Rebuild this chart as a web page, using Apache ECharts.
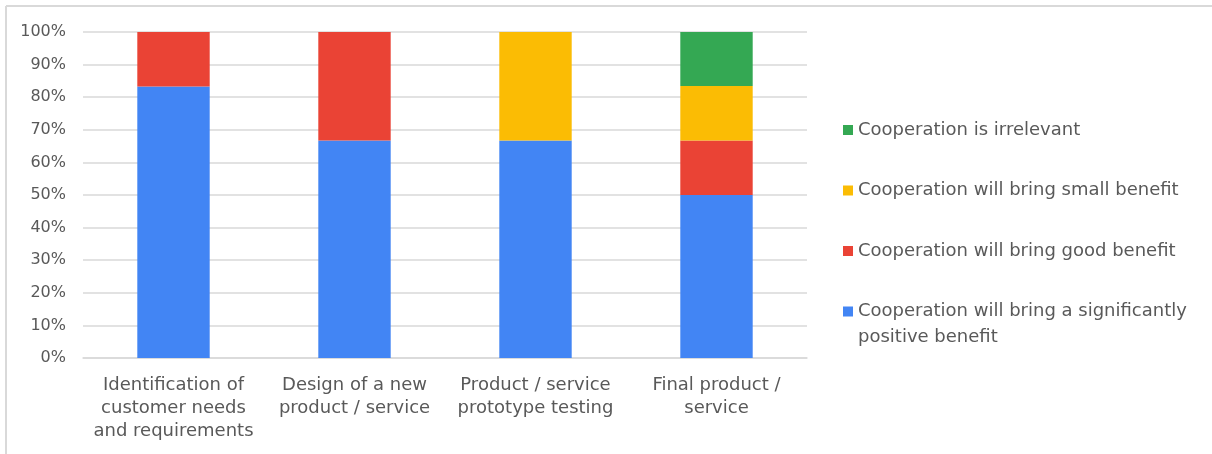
<!DOCTYPE html>
<html>
<head>
<meta charset="utf-8">
<script src="https://cdn.jsdelivr.net/npm/echarts@6/dist/echarts.min.js"></script>
<style>
  html, body { margin: 0; padding: 0; background: #fff; }
  #main { width: 1212px; height: 454px; }
</style>
</head>
<body>
<div id="main"></div>
<script>
// categories and shares (percent of respondents per stage)
var categories = [
    'Identification of\ncustomer needs\nand requirements',
    'Design of a new\nproduct / service',
    'Product / service\nprototype testing',
    'Final product /\nservice'
];
var seriesNames = [
    'Cooperation will bring a significantly\npositive benefit',
    'Cooperation will bring good benefit',
    'Cooperation will bring small benefit',
    'Cooperation is irrelevant'
];
var significant = [83.3, 66.7, 66.7, 50.0];
var good        = [16.7, 33.3, 0, 16.7];
var small       = [0, 0, 33.3, 16.7];
var irrelevant  = [0, 0, 0, 16.7];
var colors = ['#4285F4', '#EA4335', '#FBBC04', '#34A853'];

var myChart = echarts.init(document.getElementById('main'));
var font = 'DejaVu Sans';

var values = [significant, good, small, irrelevant];
var series = [];
for (var i = 0; i < values.length; i++) {
    series.push({
        name: seriesNames[i],
        type: 'bar',
        stack: 'total',
        barWidth: '40%',
        itemStyle: { color: colors[i] },
        data: values[i]
    });
}

// legend is reversed (green on top); the two-line item keeps its square on the first line
var legendData = seriesNames.slice().reverse().map(function (n) {
    var twoLines = n.indexOf('\n') >= 0;
    return twoLines ? { name: n } : { name: n, textStyle: { padding: [26, 0, 26, 0] } };
});

var option = {
    animation: false,
    backgroundColor: '#fff',
    textStyle: { fontFamily: font },
    graphic: [
        // light frame on the left and top
        { type: 'line', shape: { x1: 6, y1: 6, x2: 1212, y2: 6 }, style: { stroke: '#d9d9d9', lineWidth: 2 } },
        { type: 'line', shape: { x1: 6, y1: 6, x2: 6, y2: 454 }, style: { stroke: '#d9d9d9', lineWidth: 2 } }
    ],
    grid: { left: 83, right: 405, top: 32, bottom: 96 },
    legend: {
        orient: 'vertical',
        left: 838,
        top: 86,
        itemWidth: 10,
        itemHeight: 10,
        itemGap: -17.5,
        icon: 'rect',
        data: legendData,
        formatter: function (name) {
            // empty first line so the square sits beside the first text line
            return name.indexOf('\n') >= 0 ? '\n' + name : name;
        },
        textStyle: { color: '#595959', fontSize: 18, fontFamily: font, lineHeight: 26 }
    },
    xAxis: {
        type: 'category',
        data: categories,
        axisLine: { lineStyle: { color: '#d9d9d9', width: 1.5 } },
        axisTick: { show: false },
        axisLabel: { color: '#595959', fontSize: 18, lineHeight: 23, margin: 16, interval: 0 }
    },
    yAxis: {
        type: 'value',
        min: 0,
        max: 100,
        interval: 10,
        axisLine: { show: false },
        axisTick: { show: false },
        splitLine: { lineStyle: { color: '#d9d9d9', width: 1.5 } },
        axisLabel: { color: '#595959', fontSize: 16, margin: 17, formatter: '{value}%' }
    },
    series: series
};
myChart.setOption(option);
</script>
</body>
</html>
